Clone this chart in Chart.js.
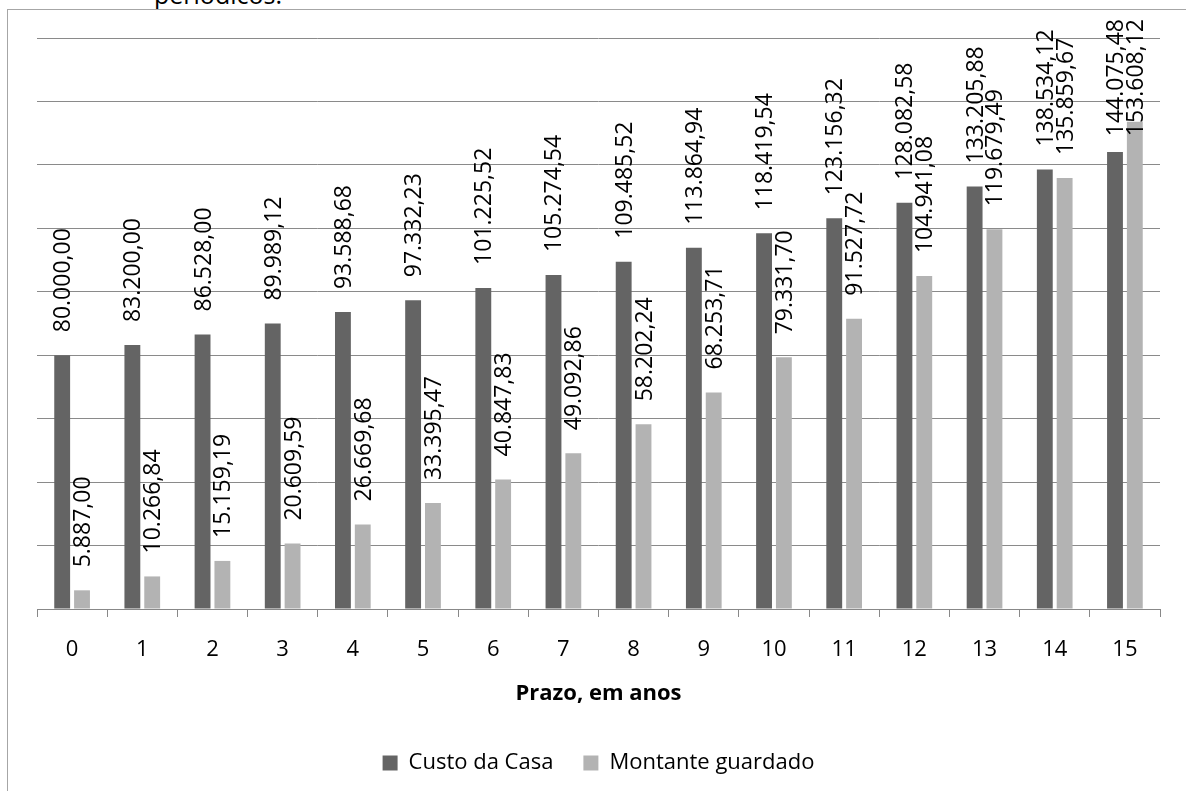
<!DOCTYPE html>
<html>
<head>
<meta charset="utf-8">
<script src="https://cdn.jsdelivr.net/npm/chart.js@4/dist/chart.umd.min.js"></script>
<style>
  body { margin: 0; background: #fff; }
  #wrap { position: relative; width: 1186px; height: 791px; overflow: hidden; }
  #frame { position: absolute; left: 7px; top: 9px; right: -10px; bottom: -10px; border-left: 1px solid #a6a6a6; border-top: 1px solid #a6a6a6; }
  #cut { position: absolute; left: 154px; top: -21px; font: 25px "Open Sans", sans-serif; color: #000; line-height: 30px; }
  canvas { position: absolute; left: 0; top: 0; }
</style>
</head>
<body>
<div id="wrap">
  <div id="cut">periódicos.</div>
  <div id="frame"></div>
  <canvas id="chart" width="1186" height="791"></canvas>
</div>
<script>
// anos
const prazos = ["0", "1", "2", "3", "4", "5", "6", "7", "8", "9", "10", "11", "12", "13", "14", "15"];

const custoCasa = [80000.00, 83200.00, 86528.00, 89989.12, 93588.68, 97332.23, 101225.52, 105274.54,
  109485.52, 113864.94, 118419.54, 123156.32, 128082.58, 133205.88, 138534.12, 144075.48];

const montanteGuardado = [5887.00, 10266.84, 15159.19, 20609.59, 26669.68, 33395.47, 40847.83, 49092.86,
  58202.24, 68253.71, 79331.70, 91527.72, 104941.08, 119679.49, 135859.67, 153608.12];

const yMax = 180000;
const yStep = 20000;

const FONT = '"Open Sans", sans-serif';

// 80000 -> "80.000,00"
const formatBR = (v) => {
  const [int, dec] = v.toFixed(2).split(".");
  return int.replace(/\B(?=(\d{3})+(?!\d))/g, ".") + "," + dec;
};

// rotated value labels above each bar
const barLabels = {
  id: "barLabels",
  afterDatasetsDraw(chart) {
    const { ctx } = chart;
    ctx.save();
    ctx.font = "23px " + FONT;
    ctx.fillStyle = "#000";
    ctx.textAlign = "left";
    ctx.textBaseline = "alphabetic";
    chart.data.datasets.forEach((ds, i) => {
      chart.getDatasetMeta(i).data.forEach((bar, j) => {
        const text = formatBR(ds.data[j]);
        const w = ctx.measureText(text).width;
        let start = bar.y - 23;
        if (start - w < 19) start = 19 + w;
        ctx.save();
        ctx.translate(bar.x + 8, start);
        ctx.rotate(-Math.PI / 2);
        ctx.fillText(text, 0, 0);
        ctx.restore();
      });
    });
    ctx.restore();
  },
};

new Chart(document.getElementById("chart"), {
  type: "bar",
  data: {
    labels: prazos,
    datasets: [
      {
        label: "Custo da Casa",
        data: custoCasa,
        backgroundColor: "#646464",
        categoryPercentage: 0.565,
        barPercentage: 0.8,
      },
      {
        label: "Montante guardado",
        data: montanteGuardado,
        backgroundColor: "#b3b3b3",
        categoryPercentage: 0.565,
        barPercentage: 0.8,
      },
    ],
  },
  options: {
    responsive: false,
    animation: false,
    devicePixelRatio: 1,
    layout: { padding: { left: 37, right: 26, top: 38, bottom: 7 } },
    scales: {
      x: {
        grid: { display: true, drawOnChartArea: false, tickLength: 8, color: "#888" },
        border: { display: true, color: "#888" },
        ticks: { color: "#000", font: { family: FONT, size: 22 }, padding: 20 },
        title: {
          display: true,
          text: "Prazo, em anos",
          color: "#000",
          font: { family: FONT, size: 22, weight: "bold" },
          padding: { top: 0, bottom: 15 },
        },
        afterFit: (scale) => { scale.height = 113; },
      },
      y: {
        min: 0,
        max: yMax,
        ticks: { display: false, stepSize: yStep },
        grid: { color: "#8a8a8a", drawTicks: false },
        border: { display: false },
        afterFit: (scale) => { scale.width = 0; },
      },
    },
    plugins: {
      legend: {
        position: "bottom",
        labels: {
          color: "#000",
          font: { family: FONT, size: 22 },
          boxWidth: 15,
          boxHeight: 15,
          padding: 30,
        },
      },
      tooltip: { enabled: false },
    },
  },
  plugins: [barLabels],
});
</script>
</body>
</html>
